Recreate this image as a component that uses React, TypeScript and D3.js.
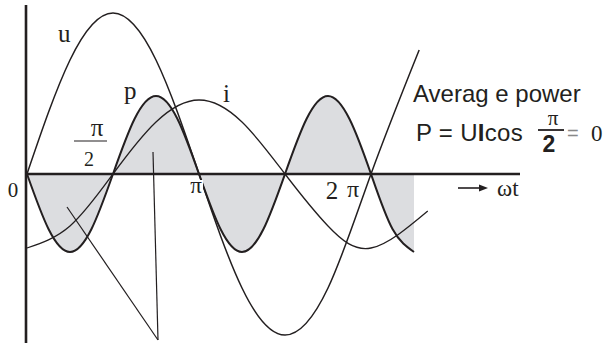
import React from "react";
import * as d3 from "d3";

// phase positions are in units of pi, values are amplitudes above the axis (px-like units)
const uPhase = [0, 0.25, 0.5, 0.75, 1, 1.25, 1.5, 1.75, 2, 2.28];
const uValues = [0, 114, 161, 114, 0, -114, -161, -114, 0, 124];

const iPhase = [0, 0.25, 0.5, 0.75, 1, 1.25, 1.5, 1.75, 2, 2.33];
const iValues = [-74, -52, 0, 52, 74, 52, 0, -52, -74, -37];

const pPhase = [0, 0.125, 0.25, 0.375, 0.5, 0.625, 0.75, 0.875, 1, 1.125, 1.25, 1.375, 1.5, 1.625, 1.75, 1.875, 2, 2.125, 2.25];
const pValues = [0, -55, -78, -55, 0, 55, 78, 55, 0, -55, -78, -55, 0, 55, 78, 55, 0, -55, -78];

const W = 606;
const H = 343;
const ink = "#231f20";
const serif = "'Liberation Serif', 'DejaVu Serif', serif";
const sans = "'Liberation Sans', Arial, sans-serif";

const App = () => {
    const x = d3.scaleLinear().domain([0, 2.5]).range([27, 27 + 2.5 * 172]);
    const y = d3.scaleLinear().domain([-161, 161]).range([335, 13]);

    const toPts = (ph: number[], vals: number[]) => ph.map((p, k) => [p, vals[k]] as [number, number]);

    const line = d3.line<[number, number]>()
        .x(d => x(d[0]))
        .y(d => y(d[1]))
        .curve(d3.curveNatural);

    const area = d3.area<[number, number]>()
        .x(d => x(d[0]))
        .y0(y(0))
        .y1(d => y(d[1]))
        .curve(d3.curveNatural);

    const uPts = toPts(uPhase, uValues);
    const iPts = toPts(iPhase, iValues);
    const pPts = toPts(pPhase, pValues);

    const y0 = y(0);

    return (
        <svg width={W} height={H} style={{ position: "absolute", left: 0, top: 0, background: "#fff" }}>
            <path d={area(pPts) || ""} fill="#dcdde0" stroke="none" />

            {/* axes */}
            <line x1={26} x2={26} y1={5} y2={H} stroke={ink} strokeWidth={2.6} />
            <line x1={26} x2={520} y1={y0} y2={y0} stroke={ink} strokeWidth={2.6} />

            {/* curves */}
            <path d={line(uPts) || ""} fill="none" stroke={ink} strokeWidth={1.5} />
            <path d={line(iPts) || ""} fill="none" stroke={ink} strokeWidth={1.3} />
            <path d={line(pPts) || ""} fill="none" stroke={ink} strokeWidth={2} />

            {/* pointer lines */}
            <line x1={67} y1={207} x2={158} y2={340} stroke={ink} strokeWidth={1.2} />
            <line x1={153} y1={152} x2={158} y2={340} stroke={ink} strokeWidth={1.2} />

            {/* curve labels */}
            <g fontFamily={serif} fill={ink}>
                <text x={58} y={42} fontSize={25}>u</text>
                <text x={124} y={99} fontSize={25}>p</text>
                <text x={223} y={102} fontSize={25}>i</text>
                <text x={97} y={136} fontSize={25} textAnchor="middle">π</text>
                <line x1={74} x2={107} y1={141} y2={141} stroke={ink} strokeWidth={1.2} />
                <text x={89} y={166} fontSize={20} textAnchor="middle">2</text>
                <text x={13} y={197} fontSize={21} textAnchor="middle">0</text>
                <rect x={189} y={180} width={14} height={15} fill="#fff" />
                <text x={196} y={193} fontSize={23} textAnchor="middle">π</text>
                <text x={332} y={199} fontSize={25} textAnchor="middle">2</text>
                <text x={353} y={197} fontSize={24} textAnchor="middle">π</text>
                <text x={497} y={196} fontSize={23}>ωt</text>
            </g>

            {/* arrow */}
            <line x1={458} x2={483} y1={188} y2={188} stroke={ink} strokeWidth={1.6} />
            <path d="M488,188 L479,184.5 L479,191.5 Z" fill={ink} />

            {/* annotation */}
            <g fontFamily={sans} fill={ink}>
                <text x={413} y={102} fontSize={24}>Averag e power</text>
                <text x={416} y={141} fontSize={24} letterSpacing={0.3}>P = U<tspan fontWeight="bold">I</tspan>cos</text>
                <text x={553} y={125} fontSize={21} fontFamily={serif} textAnchor="middle">π</text>
                <line x1={538} x2={564} y1={130} y2={130} stroke={ink} strokeWidth={1.8} />
                <text x={549} y={152} fontSize={23} fontWeight="bold" textAnchor="middle">2</text>
                <text x={567} y={140} fontSize={20} fill="#888">=</text>
                <text x={591} y={141} fontSize={23} fontFamily={serif}>0</text>
            </g>
        </svg>
    );
};

export default App;
